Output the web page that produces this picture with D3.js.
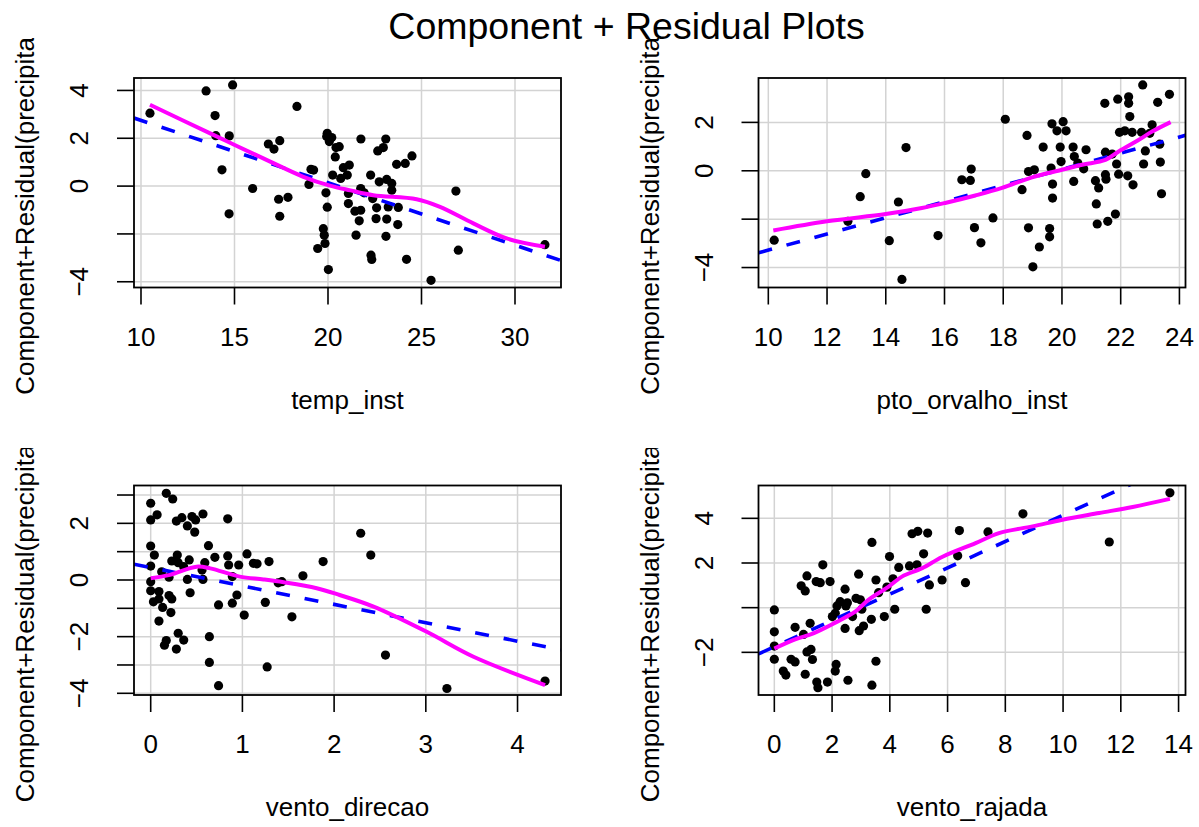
<!DOCTYPE html>
<html>
<head>
<meta charset="utf-8">
<script src="https://cdn.jsdelivr.net/npm/d3@7"></script>
<style>
  html, body { margin: 0; padding: 0; background: #fff; }
  svg { display: block; font-family: "Liberation Sans", Arial, Helvetica, sans-serif; }
</style>
</head>
<body>
<div id="chart"></div>
<script>
// --- Data ---
const chartTitle = "Component + Residual Plots";
const yTitle = "Component+Residual(precipitacao)";
const xTitles = ["temp_inst", "pto_orvalho_inst", "vento_direcao", "vento_rajada"];

const tempPts = [[10.48,3.05],[13.48,3.98],[14.9,4.23],[13.96,2.95],[14.0,2.11],[14.72,2.1],[14.33,0.68],[14.71,-1.16],
  [15.97,-0.1],[16.81,1.76],[17.11,1.55],[17.42,1.9],[17.36,-0.55],[17.86,-0.47],[17.42,-1.26],[18.34,3.33],[19.09,0.7],
  [19.23,0.67],[18.98,0.07],[19.89,-0.28],[19.96,-0.88],[19.75,-1.78],[19.8,-2.05],[19.84,-2.4],[19.45,-2.61],[20.02,-3.49],
  [19.93,2.07],[20.2,2.03],[20.07,1.86],[19.96,2.21],[20.43,1.61],[20.39,1.22],[20.25,0.46],[20.68,0.32],[20.82,0.77],
  [21.14,0.88],[21.09,-0.31],[21.09,-0.73],[20.6,1.65],[21.03,0.46],[21.76,1.97],[23.09,1.97],[22.96,1.61],[22.66,1.47],
  [24.49,1.26],[24.13,0.95],[23.67,0.91],[22.28,0.46],[22.74,0.18],[23.14,0.28],[23.41,0.11],[23.41,-0.17],[21.75,-0.1],
  [21.93,-0.28],[22.39,-0.52],[22.6,-0.91],[23.22,-0.87],[23.76,-0.89],[21.44,-1.05],[21.75,-1.01],[21.67,-1.45],
  [22.57,-1.36],[23.14,-1.38],[23.73,-1.61],[21.5,-2.05],[23.1,-2.1],[22.3,-2.89],[22.34,-3.07],[24.2,-3.06],
  [26.84,-0.21],[26.97,-2.68],[25.51,-3.94],[31.6,-2.45]];

const orvalhoPts = [[10.2,-2.87],[12.71,-2.09],[13.13,-1.07],[13.32,-0.12],[14.69,0.96],[14.43,-1.29],[14.12,-2.89],
  [14.55,-4.49],[15.78,-2.68],[16.59,-0.37],[16.88,-0.4],[16.91,0.07],[17.02,-2.35],[17.24,-2.98],[17.65,-1.95],[18.07,2.13],
  [18.64,-0.78],[18.81,1.46],[18.86,-0.03],[19.06,0.04],[18.86,-2.36],[19.23,-3.15],[19.01,-3.97],[19.36,0.98],[19.58,-2.39],
  [19.58,-2.73],[19.66,1.94],[20.04,2.03],[19.83,1.65],[20.14,1.65],[19.63,0.11],[19.68,-0.55],[19.68,-1.13],[19.94,0.98],
  [19.97,0.38],[20.38,0.98],[20.42,0.59],[20.54,0.32],[20.74,0.08],[20.82,0.87],[20.4,-0.44],[21.14,-0.41],[21.25,-0.71],
  [21.17,-1.37],[21.2,-2.2],[21.56,-2.09],[21.82,-1.79],[21.48,-0.16],[21.5,-0.35],[21.48,0.77],[21.71,0.69],[21.86,0.28],
  [21.93,-0.14],[22.24,-0.21],[22.42,-0.58],[21.46,2.79],[21.9,2.96],[22.27,3.06],[22.27,2.79],[22.31,2.24],[22.75,3.55],
  [23.26,2.83],[23.66,3.16],[21.96,1.59],[22.14,1.65],[22.39,1.59],[22.71,1.59],[23.07,1.9],[22.99,1.55],[22.84,0.82],
  [22.78,0.28],[23.33,1.1],[23.35,0.36],[23.39,-0.95]];

const direcaoPts = [[0.17,3.06],[0.24,2.86],[0,2.71],[0,2.12],[0.07,2.3],[0.28,2.08],[0.34,2.2],[0.4,1.91],[0.45,2.24],
  [0.49,2.12],[0.48,1.69],[0.57,2.33],[0.84,2.16],[0,1.2],[0.04,0.88],[0,0.49],[0,-0.06],[0,-0.38],[0.03,-0.77],[0.09,-0.41],
  [0.12,0.29],[0.09,-0.67],[0.13,-0.97],[0.09,-1.45],[0.2,0.1],[0.2,-0.55],[0.23,-0.67],[0.22,-1.15],[0.23,0.67],[0.29,0.88],
  [0.3,0.61],[0.36,0.47],[0.42,0.71],[0.4,0.02],[0.43,-0.45],[0.3,-1.88],[0.36,-2.12],[0.17,-2.14],[0.15,-2.3],[0.28,-2.44],
  [0.56,0.35],[0.59,0.61],[0.57,0.02],[0.63,1.21],[0.7,0.8],[0.64,-2.0],[0.64,-2.91],[0.74,-3.73],[0.74,-0.88],[0.84,0.85],
  [0.85,0.53],[0.89,0.12],[0.89,-0.82],[0.94,-0.53],[0.96,0.53],[1.05,0.92],[1.12,0.59],[1.16,0.57],[1.02,-1.24],[1.29,0.65],
  [1.25,-0.79],[1.27,-3.07],[1.39,-0.1],[1.43,-0.06],[1.54,-1.3],[1.66,0.15],[1.88,0.65],[2.29,1.65],[2.4,0.88],[2.56,-2.65],
  [3.23,-3.83],[4.3,-3.57]];

const rajadaPts = [[0,-0.1],[0,-1.08],[0,-1.72],[0,-2.31],[0.31,-2.84],[0.4,-3.02],[0.58,-2.31],[0.72,-2.43],[0.72,-0.88],
  [1.07,-2.98],[0.93,0.98],[1.07,0.75],[1.13,1.42],[1.01,-1.2],[1.13,-1.98],[1.27,-1.87],[1.24,-0.7],[1.32,-2.32],[1.47,-3.33],
  [1.51,-3.58],[1.45,1.17],[1.59,1.12],[1.68,1.92],[1.93,1.17],[1.84,-3.33],[2.11,-0.25],[2.01,-0.4],[2.17,0.08],[2.14,-2.54],
  [2.11,-2.84],[2.28,0.27],[2.45,0.83],[2.48,0.08],[2.53,0.22],[2.45,-0.93],[2.71,-0.4],[2.55,-3.25],[2.83,0.42],[2.92,1.5],
  [2.98,0.35],[3.03,-0.07],[2.94,-1.03],[3.09,-0.82],[3.38,2.92],[3.36,-0.52],[3.38,-3.47],[3.52,1.24],[3.52,-2.4],[3.61,0.67],
  [3.81,-0.4],[3.9,0.92],[3.99,2.29],[4.11,1.29],[4.17,-0.07],[4.31,1.8],[4.68,1.87],[4.94,1.92],[5.17,2.41],[5.37,1.02],
  [5.26,-0.07],[4.77,3.31],[4.97,3.42],[5.31,3.34],[5.81,1.24],[6.41,3.45],[6.35,2.32],[6.62,1.12],[7.4,3.39],[8.61,4.2],
  [11.6,2.94],[13.7,5.14]];

// linear fit: [intercept, slope]
const tempFit = [5.36, -0.261];
const orvalhoFit = [-6.62, 0.334];
const direcaoFit = [0.44, -0.65];
const rajadaFit = [-1.75, 0.589];

// smoother
const tempSmooth = [[10.48,3.4],[13.87,2.14],[15.01,1.72],[16.54,1.16],[18.68,0.39],[20.1,0.02],[21.2,-0.18],[22.42,-0.38],
  [24.74,-0.55],[25.99,-0.87],[27.77,-1.56],[29.56,-2.19],[31.6,-2.54]];
const orvalhoSmooth = [[10.17,-2.47],[12,-2.09],[14,-1.79],[15.23,-1.54],[16.02,-1.33],[17.05,-1.02],[17.96,-0.71],
  [18.98,-0.27],[20,0.04],[20.69,0.25],[21.48,0.45],[21.93,0.8],[22.62,1.28],[23.07,1.62],[23.7,2.01]];
const direcaoSmooth = [[0,0.06],[0.21,0.18],[0.5,0.47],[0.65,0.41],[0.97,0.12],[1.23,0.02],[1.45,-0.08],[1.81,-0.29],
  [2.06,-0.53],[2.43,-0.94],[3.01,-1.83],[3.52,-2.71],[4.3,-3.71]];
const rajadaSmooth = [[0,-1.83],[0.72,-1.42],[1.35,-1.15],[2.11,-0.67],[2.8,-0.18],[3.26,0.35],[3.96,0.94],[4.42,1.39],
  [5.12,1.77],[5.81,2.27],[6.97,2.89],[7.78,3.34],[8.94,3.64],[9.98,3.94],[11.25,4.24],[12.41,4.51],[13.7,4.87]];

// axis ranges and ticks
const xDomains = [[9.626, 32.46], [9.666, 24.207], [-0.182, 4.474], [-0.548, 14.24]];
const yDomains = [[-4.24, 4.52], [-4.825, 3.835], [-4.06, 3.336], [-3.91, 5.47]];
const xTicks = [[10, 15, 20, 25, 30], [10, 12, 14, 16, 18, 20, 22, 24], [0, 1, 2, 3, 4], [0, 2, 4, 6, 8, 10, 12, 14]];
const yTicks = [[-4, -2, 0, 2, 4], [-4, -2, 0, 2], [-4, -3, -2, -1, 0, 1, 2, 3], [-2, 0, 2, 4]];
const yTickLabels = [[-4, 0, 2, 4], [-4, 0, 2], [-4, -2, 0, 2], [-2, 2, 4]];

const panelPts = [tempPts, orvalhoPts, direcaoPts, rajadaPts];
const panelFits = [tempFit, orvalhoFit, direcaoFit, rajadaFit];
const panelSmooth = [tempSmooth, orvalhoSmooth, direcaoSmooth, rajadaSmooth];

// --- Dimensions ---
const width = 1199;
const height = 827;
const boxW = 427;
const boxH = 209.5;
const colLeft = [134, 758.5];
const rowTop = [78, 485.5];
const rowClipTop = [38, 448];
const fontAxis = 26;

const fmt = v => (v < 0 ? "\u2212" + Math.abs(v) : String(v));

// --- SVG Setup ---
const svg = d3.select("#chart").append("svg")
  .attr("width", width)
  .attr("height", height)
  .attr("viewBox", [0, 0, width, height]);

svg.append("rect").attr("width", width).attr("height", height).attr("fill", "#fff");

const defs = svg.append("defs");

// Header text
svg.append("text")
  .attr("x", 626.5)
  .attr("y", 39)
  .attr("text-anchor", "middle")
  .attr("font-size", "37.5px")
  .attr("fill", "#000")
  .text(chartTitle);

// --- Draw each panel ---
panelPts.forEach((pts, i) => {
  const col = i % 2;
  const row = Math.floor(i / 2);
  const left = colLeft[col];
  const top = rowTop[row];

  const x = d3.scaleLinear().domain(xDomains[i]).range([left, left + boxW]);
  const y = d3.scaleLinear().domain(yDomains[i]).range([top + boxH, top]);

  const g = svg.append("g");

  // clip for plot box
  defs.append("clipPath").attr("id", `box-${i}`)
    .append("rect").attr("x", left).attr("y", top).attr("width", boxW).attr("height", boxH);

  // clip for y title (figure region, the label runs past its top)
  defs.append("clipPath").attr("id", `fig-${i}`)
    .append("rect").attr("x", left - 134).attr("y", rowClipTop[row])
    .attr("width", 600).attr("height", 420);

  // grid
  const grid = g.append("g").attr("stroke", "#d3d3d3").attr("stroke-width", 1.5);
  grid.selectAll(".gx").data(xTicks[i]).join("line")
    .attr("x1", d => x(d)).attr("x2", d => x(d))
    .attr("y1", top).attr("y2", top + boxH);
  grid.selectAll(".gy").data(yTicks[i]).join("line")
    .attr("x1", left).attr("x2", left + boxW)
    .attr("y1", d => y(d)).attr("y2", d => y(d));

  const plot = g.append("g").attr("clip-path", `url(#box-${i})`);

  // points
  plot.selectAll("circle").data(pts).join("circle")
    .attr("cx", d => x(d[0]))
    .attr("cy", d => y(d[1]))
    .attr("r", 4.6)
    .attr("fill", "#000");

  // fitted line
  const [b0, b1] = panelFits[i];
  const xd = x.domain();
  plot.append("line")
    .attr("x1", x(xd[0])).attr("y1", y(b0 + b1 * xd[0]))
    .attr("x2", x(xd[1])).attr("y2", y(b0 + b1 * xd[1]))
    .attr("stroke", "#0000ff")
    .attr("stroke-width", 3.6)
    .attr("stroke-dasharray", "14,15");

  // smoother
  plot.append("path")
    .datum(panelSmooth[i])
    .attr("d", d3.line().x(d => x(d[0])).y(d => y(d[1])).curve(d3.curveCatmullRom))
    .attr("fill", "none")
    .attr("stroke", "#ff00ff")
    .attr("stroke-width", 4);

  // box
  g.append("rect")
    .attr("x", left).attr("y", top).attr("width", boxW).attr("height", boxH)
    .attr("fill", "none").attr("stroke", "#000").attr("stroke-width", 1.8);

  // x axis
  const xAxis = g.append("g").attr("transform", `translate(0, ${top + boxH})`);
  xAxis.selectAll("line").data(xTicks[i]).join("line")
    .attr("x1", d => x(d)).attr("x2", d => x(d))
    .attr("y1", 0).attr("y2", 17)
    .attr("stroke", "#000").attr("stroke-width", 1.6);
  xAxis.selectAll("text").data(xTicks[i]).join("text")
    .attr("x", d => x(d)).attr("y", 58)
    .attr("text-anchor", "middle")
    .attr("font-size", fontAxis + "px")
    .text(fmt);

  // y axis
  const yAxis = g.append("g");
  yAxis.selectAll("line").data(yTicks[i]).join("line")
    .attr("x1", left - 17).attr("x2", left)
    .attr("y1", d => y(d)).attr("y2", d => y(d))
    .attr("stroke", "#000").attr("stroke-width", 1.6);
  yAxis.selectAll("text").data(yTickLabels[i]).join("text")
    .attr("transform", d => `translate(${left - 46}, ${y(d)}) rotate(-90)`)
    .attr("text-anchor", "middle")
    .attr("font-size", fontAxis + "px")
    .text(fmt);

  // axis titles
  g.append("text")
    .attr("x", left + boxW / 2).attr("y", top + boxH + 121)
    .attr("text-anchor", "middle")
    .attr("font-size", fontAxis + "px")
    .text(xTitles[i]);

  g.append("g").attr("clip-path", `url(#fig-${i})`)
    .append("text")
    .attr("transform", `translate(${left - 100}, ${top + boxH / 2 + 212}) rotate(-90)`)
    .attr("text-anchor", "start")
    .attr("font-size", fontAxis + "px")
    .text(yTitle);
});
</script>
</body>
</html>
